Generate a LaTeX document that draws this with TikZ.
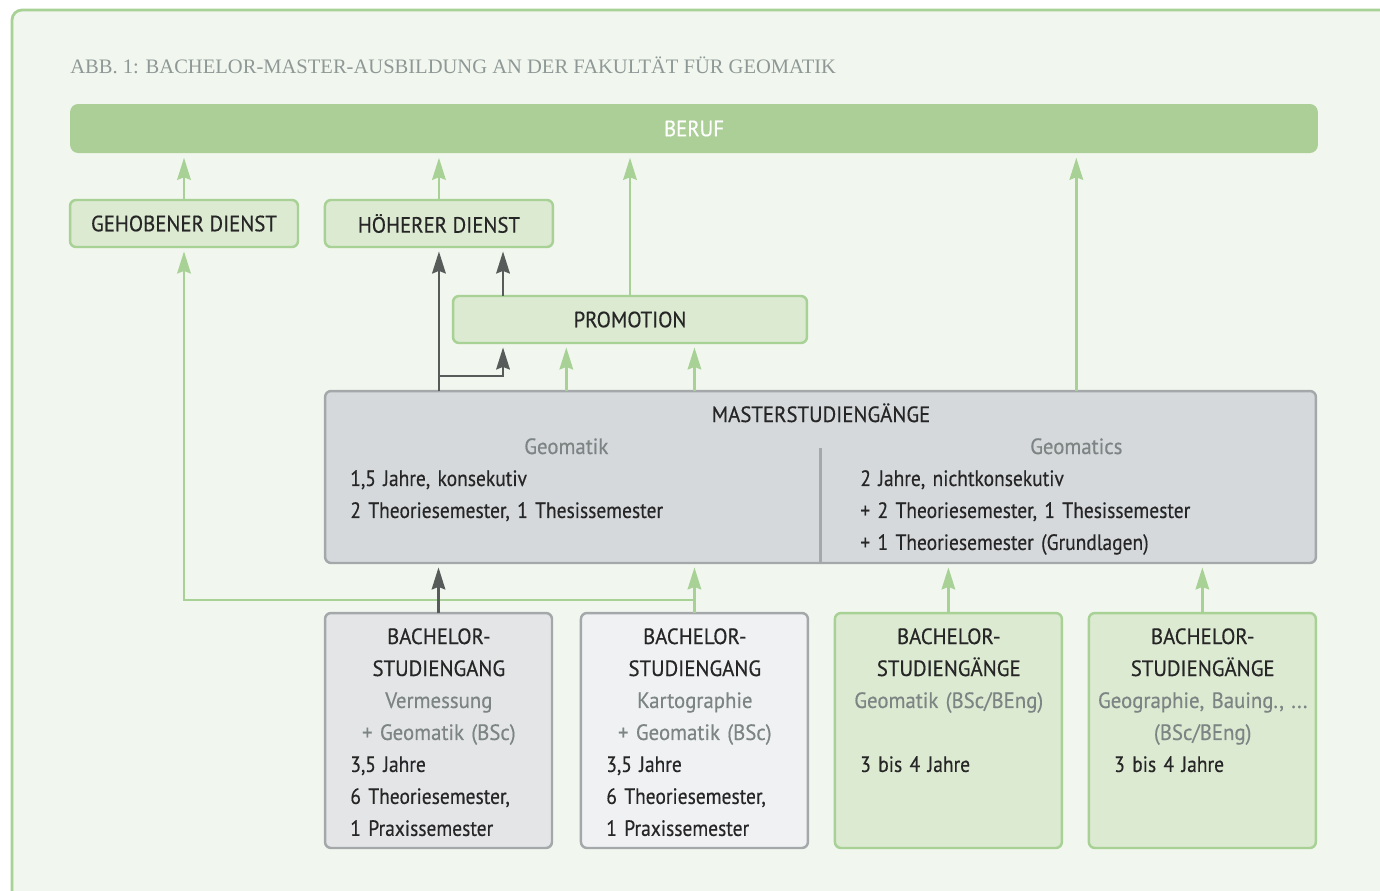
\documentclass[tikz,border=0pt]{standalone}
\usepackage{fontspec}
\setmainfont{PT Sans}[FakeStretch=0.88, FakeBold=0.4]
\newfontfamily\capsfont{PT Sans}[FakeStretch=0.94, FakeBold=0.5]
\newfontfamily\titlefont{Liberation Serif}
\usetikzlibrary{arrows.meta, positioning}
\usepackage{xcolor}
\definecolor{linegreen}{HTML}{A8D196}
\definecolor{bargreen}{HTML}{ABCF96}
\definecolor{boxgreen}{HTML}{DDEAD2}
\definecolor{bggreen}{HTML}{F1F6EE}
\definecolor{mastergray}{HTML}{D6D9DB}
\definecolor{boxgray}{HTML}{A4A8AA}
\definecolor{bgray}{HTML}{E4E5E7}
\definecolor{blight}{HTML}{F0F1F3}
\definecolor{darkline}{HTML}{575C5B}
\definecolor{subgray}{HTML}{7D8584}
\definecolor{textdark}{HTML}{262626}
\definecolor{titlegray}{HTML}{8E9896}
\newcommand{\bodysize}{\fontsize{12.6}{18.2}\selectfont}
\newcommand{\capstext}{\capsfont\bodysize}
\newcommand{\ctline}[1]{\makebox[\linewidth]{#1}}
\newcommand{\subtxt}[1]{{\capsfont\textcolor{subgray}{#1}}}
\newcommand{\capline}[1]{\makebox[\linewidth]{\capsfont #1}}
\tikzstyle{dienst} = [rectangle, rounded corners=0.12cm, minimum width=4.56cm, minimum height=0.94cm, text centered, draw=linegreen, line width=1.4pt, fill=boxgreen, text=textdark, outer sep=0pt, font=\capstext]
\tikzstyle{bachelor} = [rectangle, rounded corners=0.12cm, minimum width=4.54cm, minimum height=4.7cm, draw=boxgray, line width=1.4pt, outer sep=0pt]
\tikzstyle{coltext} = [inner sep=0pt, anchor=base west, align=left, text=textdark, text width=8.64cm]
\tikzstyle{bachtext} = [coltext, text width=3.54cm]
\tikzstyle{garrow} = [linegreen, line width=1.6pt, -{Stealth[length=0.44cm, width=0.27cm, inset=0.05cm]}, shorten >=2.5pt]
\tikzstyle{darrow} = [darkline, line width=1.6pt, -{Stealth[length=0.44cm, width=0.27cm, inset=0.05cm]}, shorten >=2.5pt]

\begin{document}
\begin{tikzpicture}[x=0.02cm, y=-0.02cm, font=\bodysize]
\clip (0,0) rectangle (1380,890);

% Frame
\draw[linegreen, line width=1.6pt, fill=bggreen, rounded corners=0.2cm] (12,10) rectangle (1420,930);
\node (title) [anchor=base west, inner sep=0pt, text=titlegray, font=\titlefont\fontsize{11.7}{13}\selectfont] at (70,73) {ABB. 1: BACHELOR-MASTER-AUSBILDUNG AN DER FAKULTÄT FÜR GEOMATIK};

% Top row
\node (beruf) [rectangle, rounded corners=0.16cm, minimum width=24.96cm, minimum height=0.98cm, fill=bargreen, text=white, font=\capstext] at (694,128.5) {BERUF};
\node (gehoben) [dienst] at (184,223.5) {GEHOBENER DIENST};
\node (hoeher) [dienst, right=0.54cm of gehoben] {HÖHERER DIENST};
\node (promo) [dienst, minimum width=7.08cm] at (630,319.5) {PROMOTION};

% Master
\node (master) [rectangle, rounded corners=0.12cm, minimum width=19.82cm, minimum height=3.44cm, draw=boxgray, line width=1.4pt, fill=mastergray, outer sep=0pt] at (820.5,477) {};
\node (mtitle) [anchor=base, inner sep=0pt, text=textdark, font=\capstext] at (821,422) {MASTERSTUDIENGÄNGE};
\draw[boxgray, line width=1.2pt] (master.south) -- ++(0,-115);
\node (geoL) [coltext] at (350,454) {\ctline{\subtxt{Geomatik}}\\1,5 Jahre, konsekutiv\\2 Theoriesemester, 1 Thesissemester};
\node (geoR) [coltext] at (860,454) {\ctline{\subtxt{Geomatics}}\\2 Jahre, nichtkonsekutiv\\+ 2 Theoriesemester, 1 Thesissemester\\+ 1 Theoriesemester (Grundlagen)};

% Bachelor
\node (b1) [bachelor, fill=bgray] at (438.5,730.5) {};
\node (b2) [bachelor, fill=blight, right=0.58cm of b1] {};
\node (b3) [bachelor, fill=boxgreen, draw=linegreen, right=0.54cm of b2] {};
\node (b4) [bachelor, fill=boxgreen, draw=linegreen, right=0.54cm of b3] {};

\node (b1t) [bachtext] at ([xshift=0.5cm, yshift=-0.62cm]b1.north west) {\capline{BACHELOR-}\\\capline{STUDIENGANG}\\\ctline{\subtxt{Vermessung}}\\\ctline{\subtxt{+ Geomatik (BSc)}}\\3,5 Jahre\\6 Theoriesemester,\\1 Praxissemester};
\node (b2t) [bachtext] at ([xshift=0.5cm, yshift=-0.62cm]b2.north west) {\capline{BACHELOR-}\\\capline{STUDIENGANG}\\\ctline{\subtxt{Kartographie}}\\\ctline{\subtxt{+ Geomatik (BSc)}}\\3,5 Jahre\\6 Theoriesemester,\\1 Praxissemester};
\node (b3t) [bachtext] at ([xshift=0.5cm, yshift=-0.62cm]b3.north west) {\capline{BACHELOR-}\\\capline{STUDIENGÄNGE}\\\ctline{\subtxt{Geomatik (BSc/BEng)}}\\\mbox{}\\3 bis 4 Jahre};
\node (b4t) [bachtext] at ([xshift=0.5cm, yshift=-0.62cm]b4.north west) {\capline{BACHELOR-}\\\capline{STUDIENGÄNGE}\\\ctline{\subtxt{Geographie, Bauing., ...}}\\\ctline{\subtxt{(BSc/BEng)}}\\3 bis 4 Jahre};

% Arrows
\coordinate (split) at (hoeher.south |- master.north);
\coordinate (pl) at ([xshift=1cm]promo.north west);
\draw[garrow] (gehoben.north) -- (beruf.south -| gehoben.north);
\draw[garrow] (hoeher.north) -- (beruf.south -| hoeher.north);
\draw[garrow] (promo.north) -- (beruf.south -| promo.north);
\draw[garrow] (master.north -| geoR.north) -- (beruf.south -| geoR.north);
\draw[darrow] (split) -- (hoeher.south);
\draw[darrow] (pl) -- (pl |- hoeher.south);
\draw[darrow] ([yshift=0.3cm]split) -| ([xshift=1cm]promo.south west);
\draw[garrow] (master.north -| geoL.north) -- (promo.south -| geoL.north);
\draw[garrow] (master.north -| b2.north) -- (promo.south -| b2.north);
\draw[garrow] ([yshift=0.26cm]b2.north) -| (gehoben.south);
\draw[garrow] (b2.north) -- (master.south -| b2.north);
\draw[darrow] (b1.north) -- (master.south -| b1.north);
\draw[garrow] (b3.north) -- (master.south -| b3.north);
\draw[garrow] (b4.north) -- (master.south -| b4.north);

\end{tikzpicture}
\end{document}
